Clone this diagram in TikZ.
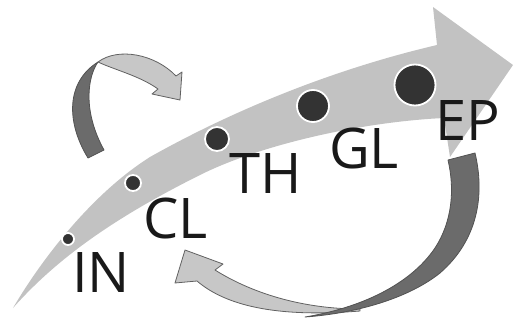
\documentclass[tikz,border=0pt]{standalone}
\usepackage{fontspec}
\setmainfont{Open Sans}
\begin{document}
\begin{tikzpicture}[x=1pt,y=-1pt,
  bodyfill/.style={fill=black!24},
  darkrib/.style={fill=black!58,draw=black!68,line width=0.8pt,line join=round},
  lightrib/.style={fill=black!22,draw=black!62,line width=0.8pt,line join=round},
  dotstyle/.style={circle,fill=black!80,draw=white,line width=1.8pt,inner sep=0pt},
  lbl/.style={inner sep=0pt,anchor=base west,text=black!90,font=\fontsize{56}{60}\selectfont}]
\useasboundingbox (0,0) rectangle (515,327);
% big arrow
\fill[bodyfill] (13,308) .. controls (40,262) and (90,195) .. (150,157)
  .. controls (230,112) and (330,70) .. (437,45)
  -- (433,7) -- (513,65) -- (450,157) -- (444,118)
  .. controls (360,122) and (260,145) .. (200,175)
  .. controls (120,215) and (60,255) .. (13,308) -- cycle;
% dots
\node[dotstyle,minimum size=12pt] (in) at (68,239) {};
\node[dotstyle,minimum size=16pt] (cl) at (133,183) {};
\node[dotstyle,minimum size=24pt] (th) at (217,139) {};
\node[dotstyle,minimum size=32pt] (gl) at (313,106) {};
\node[dotstyle,minimum size=41pt] (ep) at (415,85) {};
% upper-left twisted arrow
\filldraw[darkrib] (88,158) .. controls (66,122) and (66,82) .. (98,62)
  .. controls (88,76) and (82,110) .. (104,150) -- cycle;
\filldraw[lightrib] (98,62) .. controls (118,47) and (155,54) .. (176,76)
  -- (182,72) -- (180,100) -- (152,94) -- (158,89)
  .. controls (140,76) and (115,70) .. (98,62) -- cycle;
% lower twisted arrow
\filldraw[lightrib] (360,309) .. controls (300,309) and (250,292) .. (215,270)
  -- (223,264) -- (185,250) -- (175,283) -- (197,281)
  .. controls (225,305) and (275,318) .. (360,311) -- cycle;
\filldraw[darkrib] (475,153) .. controls (485,195) and (478,240) .. (440,273)
  .. controls (410,297) and (360,313) .. (305,317)
  .. controls (360,308) and (410,285) .. (435,248)
  .. controls (452,222) and (455,190) .. (448,160) -- cycle;
% labels
\node[lbl] (lin) at (72,292) {IN};
\node[lbl] (lcl) at (143,238) {CL};
\node[lbl] (lth) at (229,193) {TH};
\node[lbl] (lgl) at (329,168) {GL};
\node[lbl] (lep) at (435,140) {EP};
\end{tikzpicture}
\end{document}
